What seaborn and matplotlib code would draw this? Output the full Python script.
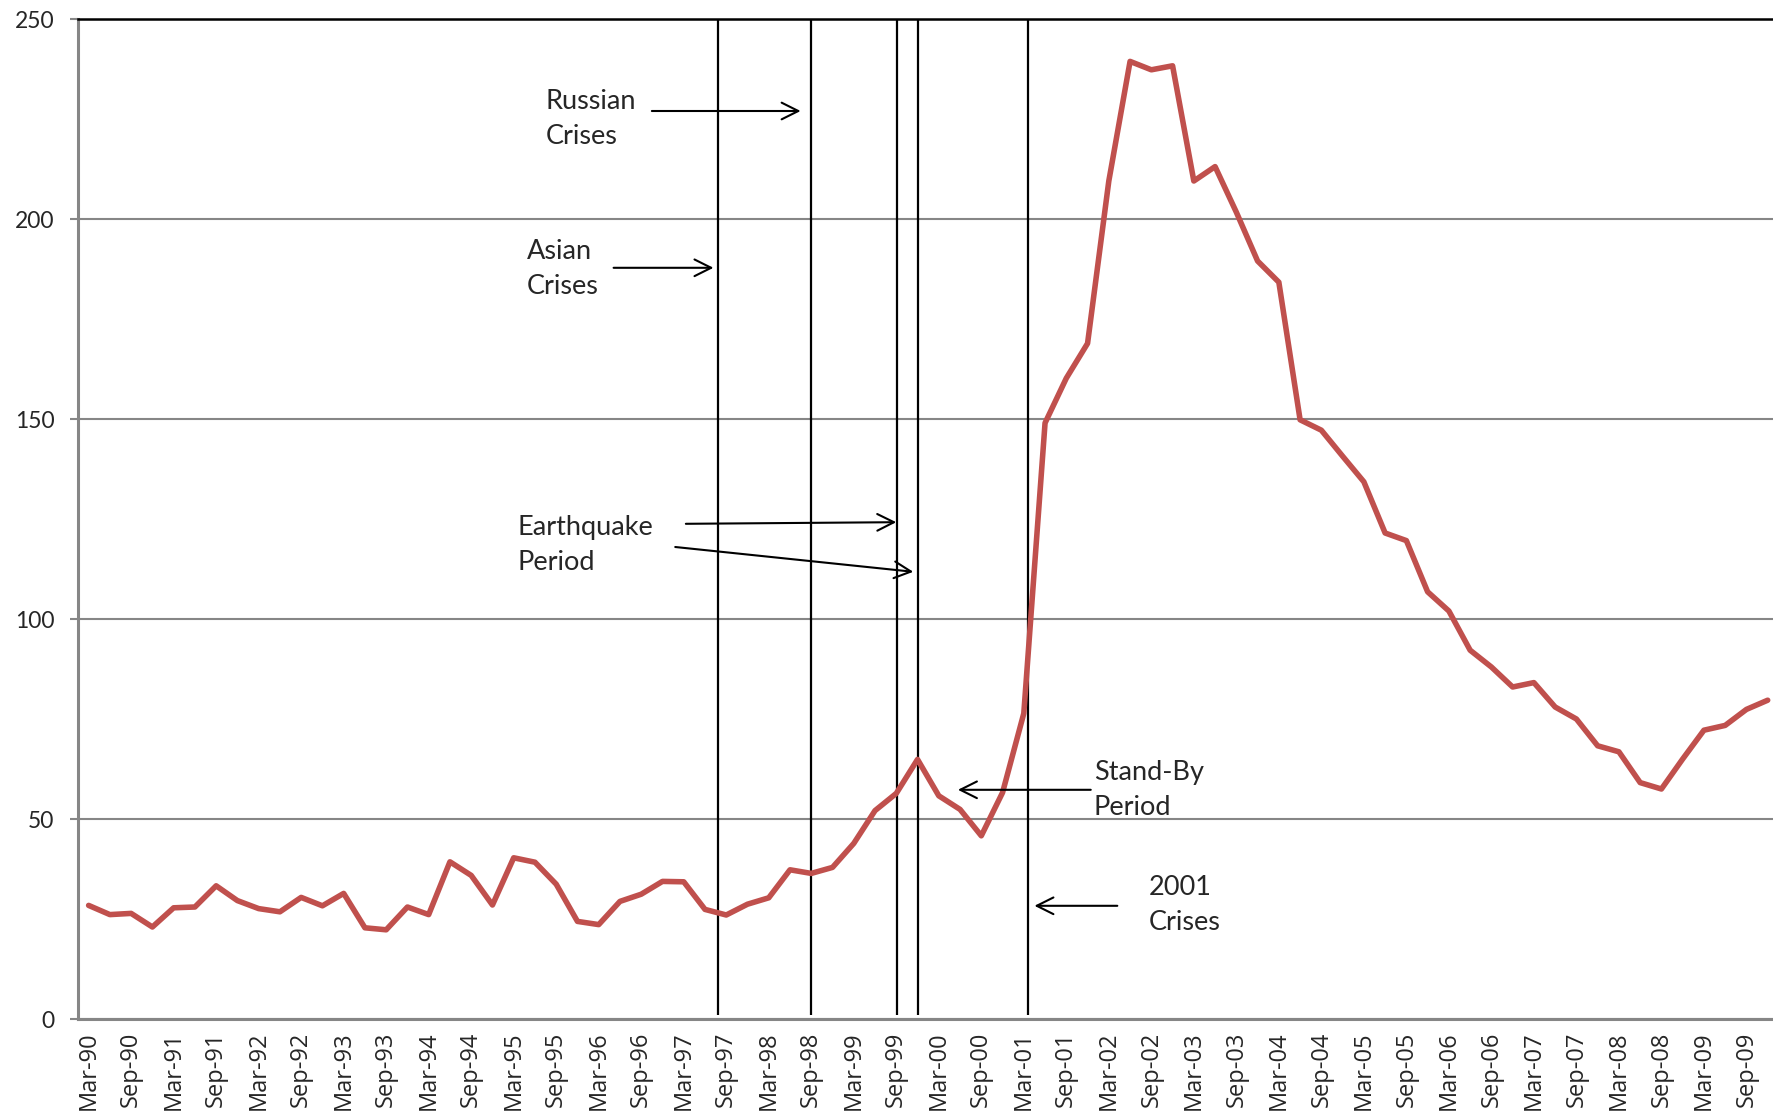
import pandas as pd
import seaborn as sns
import matplotlib.pyplot as plt

# quarterly series, Mar-90 .. Dec-09
months = ["Mar", "Jun", "Sep", "Dec"]
years = ["90", "91", "92", "93", "94", "95", "96", "97", "98", "99",
         "00", "01", "02", "03", "04", "05", "06", "07", "08", "09"]
quarters = [f"{m}-{y}" for y in years for m in months]

values = [
    28.4, 26.1, 26.4, 23.0, 27.8, 28.0, 33.3, 29.6, 27.6, 26.8,
    30.4, 28.3, 31.4, 22.8, 22.3, 28.0, 26.1, 39.3, 35.9, 28.5,
    40.3, 39.2, 33.7, 24.4, 23.6, 29.4, 31.2, 34.4, 34.3, 27.4,
    26.0, 28.7, 30.3, 37.3, 36.4, 37.9, 43.9, 52.1, 56.4, 64.9,
    55.8, 52.4, 45.8, 56.6, 76.4, 149.0, 160.2, 168.9, 209.5, 239.4,
    237.3, 238.3, 209.5, 213.1, 201.7, 189.5, 184.2, 149.8, 147.2, 140.7,
    134.3, 121.5, 119.6, 106.8, 102.0, 92.2, 88.0, 83.0, 84.1, 78.0,
    75.0, 68.3, 66.8, 59.1, 57.5, 65.0, 72.2, 73.4, 77.4, 79.7,
]

# event markers (drawn by hand in the original, positions in quarter index units)
event_x = [29.6, 34.0, 38.05, 39.0, 44.2]

y_ticks = [0, 50, 100, 150, 200, 250]

df = pd.DataFrame({"idx": range(len(quarters)), "quarter": quarters, "value": values})

sns.set_style("white")
plt.rcParams["font.family"] = ["Lato", "DejaVu Sans"]

fig = plt.figure(figsize=(17.73, 11.2), dpi=100)
ax = fig.add_axes([78 / 1773, 101 / 1120, 1695 / 1773, 1000 / 1120])

# gridlines first, under everything
ax.set_axisbelow(True)
ax.yaxis.grid(True, color="#868686", linewidth=1.5)
ax.xaxis.grid(False)

# event lines
ax.vlines(event_x, 1, 250, colors="black", linewidth=1.6, zorder=2)

sns.lineplot(data=df, x="idx", y="value", ax=ax, color="#C0504D",
             linewidth=4.0, zorder=3)

ax.set_xlim(-0.5, 79.25)
ax.set_ylim(0, 250)
ax.set_yticks(y_ticks)
ax.set_yticklabels([str(t) for t in y_ticks], fontsize=16.5)

ax.set_xticks(df["idx"][::2])
ax.set_xticklabels(df["quarter"][::2], rotation=90, fontsize=17,
                   fontfamily="Open Sans")
ax.set_xlabel("")
ax.set_ylabel("")

ax.tick_params(axis="y", length=6, width=1.5, color="#868686", pad=11, left=True)
ax.tick_params(axis="x", length=0, pad=9)

for side in ["left", "bottom"]:
    ax.spines[side].set_color("#868686")
    ax.spines[side].set_linewidth(2.2)
ax.spines["top"].set_color("black")
ax.spines["top"].set_linewidth(1.8)
ax.spines["right"].set_visible(False)

# annotations
arrow = dict(arrowstyle="->,head_length=0.6,head_width=0.3", color="black",
             lw=1.5, shrinkA=0, shrinkB=0, mutation_scale=20)
txt = dict(fontsize=19.5, ha="left", va="center", linespacing=1.5)

ax.text(21.5, 225, "Russian\nCrises", **txt)
ax.annotate("", xy=(33.5, 227), xytext=(26.5, 227), arrowprops=arrow)

ax.text(20.6, 187.5, "Asian\nCrises", **txt)
ax.annotate("", xy=(29.4, 187.8), xytext=(24.7, 187.8), arrowprops=arrow)

ax.text(20.2, 118.6, "Earthquake\nPeriod", **txt)
ax.annotate("", xy=(38.0, 124.2), xytext=(28.1, 123.8), arrowprops=arrow)
ax.annotate("", xy=(38.8, 111.8), xytext=(27.6, 118.0), arrowprops=arrow)

ax.text(47.3, 57.2, "Stand-By\nPeriod", **txt)
ax.annotate("", xy=(40.9, 57.3), xytext=(47.15, 57.3), arrowprops=arrow)

ax.text(49.9, 28.6, "2001\nCrises", **txt)
ax.annotate("", xy=(44.5, 28.3), xytext=(48.4, 28.3), arrowprops=arrow)

fig.savefig("out.png", dpi=100)
plt.close(fig)
